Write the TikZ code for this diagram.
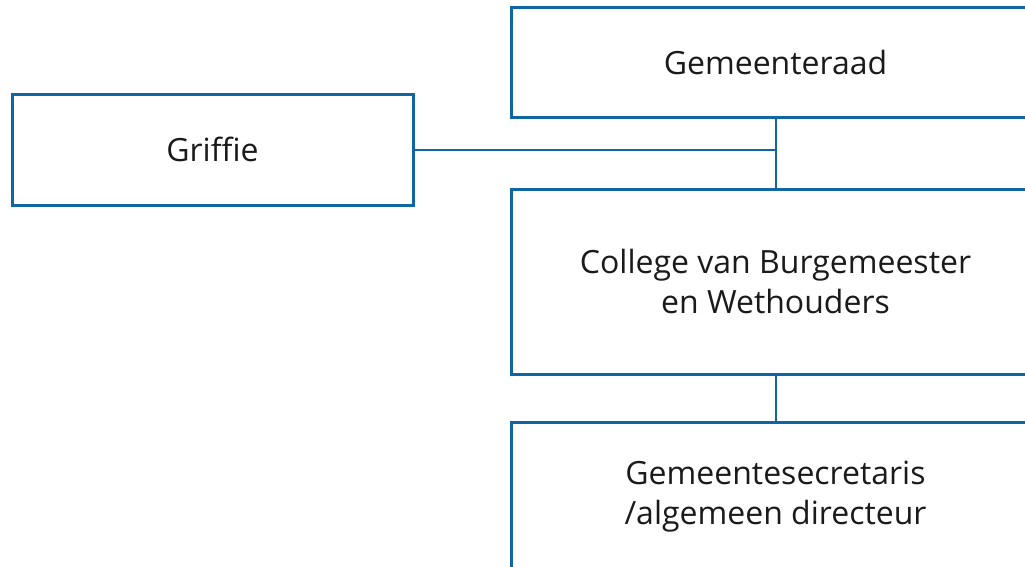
\documentclass[tikz,border=0pt]{standalone}
\usepackage{fontspec}
\setmainfont{Open Sans}
\usetikzlibrary{positioning}
\definecolor{orgblue}{RGB}{16,102,160}
\definecolor{orgtext}{RGB}{26,26,26}

\begin{document}
\begin{tikzpicture}[x=1pt,y=-1pt,
		orgbox/.style={draw=orgblue,line width=3pt,inner sep=0pt,text=orgtext,align=center,
			font=\fontsize{32}{40}\selectfont},
		link/.style={draw=orgblue,line width=2pt}]
			\useasboundingbox (0,0) rectangle (1025,566);
			\clip (0,0) rectangle (1025,566);
			\node[orgbox,minimum width=528pt,minimum height=110pt] (raad) at (775.5,62.5) {Gemeenteraad};
			\node[orgbox,minimum width=401pt,minimum height=111pt] (griffie) at (212.5,149.5) {Griffie};
			\node[orgbox,minimum width=528pt,minimum height=185pt] (college) at (775.5,281.5) {College van Burgemeester\\en Wethouders};
			\node[orgbox,minimum width=528pt,minimum height=150pt] (secretaris) at (775.5,497) {Gemeentesecretaris\\/algemeen directeur};
			\draw[link] (raad) -- (college);
			\draw[link] (griffie) -- (griffie -| raad);
			\draw[link] (college) -- (secretaris);
		\end{tikzpicture}
\end{document}
